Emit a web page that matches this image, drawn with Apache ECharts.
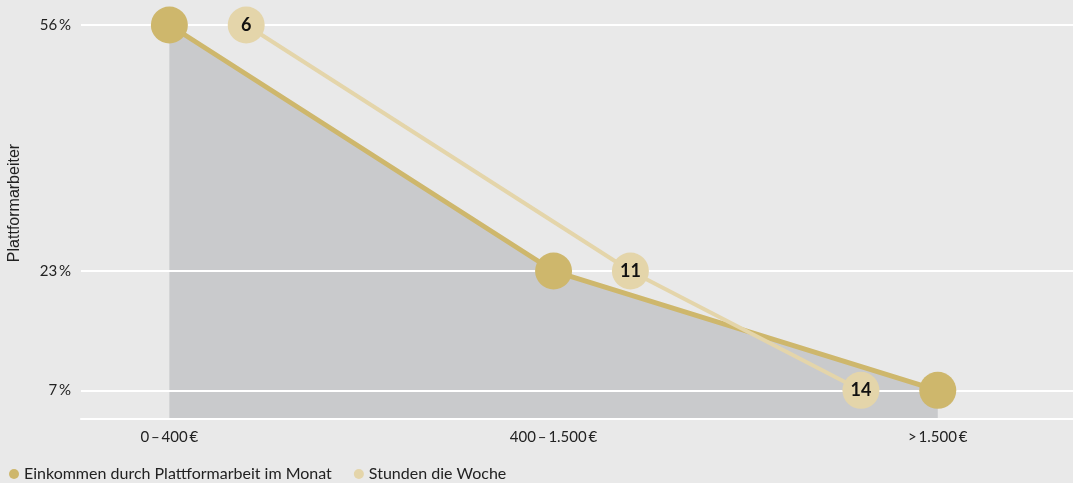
<!DOCTYPE html>
<html>
<head>
<meta charset="utf-8">
<script src="https://cdn.jsdelivr.net/npm/echarts@6/dist/echarts.min.js"></script>
<style>
html,body{margin:0;padding:0;background:#e9e9e9;}
#chart{width:1073px;height:483px;}
</style>
</head>
<body>
<div id="chart"></div>
<script>
// Data
const categories = ['0\u2009–\u2009400\u2009€', '400\u2009–\u20091.500\u2009€', '>\u20091.500\u2009€'];
const categoryPos = [5, 10, 15];
const shares = [56, 23, 7];               // Plattformarbeiter (%)
const hours = [6, 11, 14];                // Stunden die Woche
const yTicks = [7, 23, 56];
const yAxisTitle = 'Plattformarbeiter';
const seriesNames = ['Einkommen durch Plattformarbeit im Monat', 'Stunden die Woche'];

const incomeData = categoryPos.map((x, i) => [x, shares[i]]);
const hoursData = hours.map((h, i) => [h, shares[i]]);

const chart = echarts.init(document.getElementById('chart'));
chart.setOption({
  backgroundColor: '#e9e9e9',
  animation: false,
  grid: { left: 81, right: 0, top: 3, bottom: 64, containLabel: false, outerBoundsMode: 'none' },
  graphic: [{
    type: 'text', x: 15, y: 203, rotation: Math.PI / 2,
    style: {
      text: yAxisTitle, fontFamily: 'Liberation Sans', fontSize: 16, fill: '#222',
      align: 'center', verticalAlign: 'middle'
    }
  }],
  legend: {
    left: 4, top: 461,
    icon: 'circle', itemWidth: 10, itemHeight: 10, itemGap: 22,
    data: seriesNames,
    textStyle: { fontFamily: 'Lato', fontSize: 16, color: '#222' }
  },
  xAxis: {
    type: 'value', min: 3.85, max: 16.76,
    axisLine: { show: true, onZero: false, lineStyle: { color: '#ffffff', width: 2 } },
    axisTick: { show: false },
    splitLine: { show: false },
    axisLabel: {
      customValues: categoryPos, margin: 11,
      fontFamily: 'Lato', fontSize: 15, color: '#222',
      formatter: v => categories[categoryPos.indexOf(v)] || ''
    }
  },
  yAxis: {
    type: 'value', min: 3.15, max: 58.95, z: 1,
    axisLine: { show: false },
    axisTick: { show: false, customValues: yTicks },
    splitLine: { show: true, lineStyle: { color: '#ffffff', width: 2 } },
    axisLabel: {
      customValues: yTicks, margin: 10,
      fontFamily: 'Lato', fontSize: 15, color: '#222',
      formatter: v => v + '\u2009%'
    }
  },
  series: [
    {
      name: 'area', type: 'line', data: incomeData, z: 0,
      symbol: 'none', lineStyle: { width: 0 },
      areaStyle: { color: '#c9cacc', opacity: 1, origin: 'start' },
      silent: true
    },
    {
      name: seriesNames[0], type: 'line', data: incomeData, z: 3,
      color: '#ceb76c',
      symbol: 'circle', symbolSize: 37,
      lineStyle: { color: '#ceb76c', width: 5 },
      itemStyle: { color: '#ceb76c' }
    },
    {
      name: seriesNames[1], type: 'line', data: hoursData, z: 4,
      color: '#e4d5aa',
      symbol: 'circle', symbolSize: 37,
      lineStyle: { color: '#e4d5aa', width: 4 },
      itemStyle: { color: '#e4d5aa' },
      label: {
        show: true, position: 'inside',
        fontFamily: 'Lato', fontWeight: 'bold', fontSize: 18, color: '#111',
        formatter: p => p.value[0]
      }
    }
  ]
});
</script>
</body>
</html>
